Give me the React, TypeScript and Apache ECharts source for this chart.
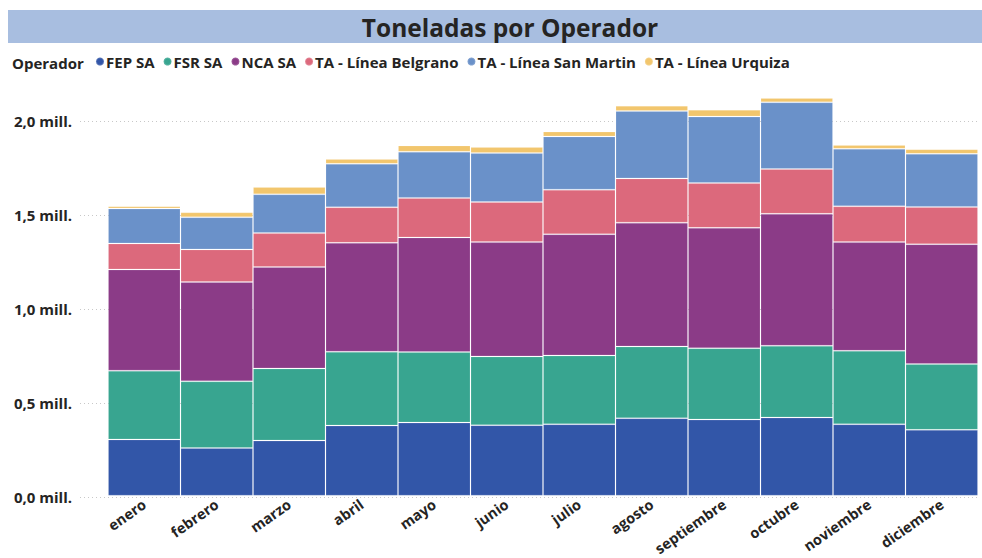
import React, { useEffect, useRef } from "react";
import * as echarts from "echarts";

const categories = [
  "enero", "febrero", "marzo", "abril", "mayo", "junio",
  "julio", "agosto", "septiembre", "octubre", "noviembre", "diciembre",
];
const fepSA = [300000, 254000, 294000, 374000, 390000, 376000, 381000, 413000, 406000, 417000, 381000, 351000];
const fsrSA = [367000, 356000, 385000, 394000, 376000, 367000, 367000, 383000, 381000, 383000, 392000, 351000];
const ncaSA = [540000, 530000, 541000, 581000, 612000, 610000, 647000, 661000, 642000, 704000, 580000, 640000];
const taBelgrano = [139000, 174000, 181000, 190000, 211000, 214000, 238000, 236000, 239000, 239000, 191000, 199000];
const taSanMartin = [186000, 172000, 207000, 232000, 246000, 261000, 284000, 360000, 355000, 356000, 307000, 283000];
const taUrquiza = [12000, 26000, 39000, 25000, 34000, 32000, 26000, 28000, 36000, 23000, 20000, 25000];

const seriesNames = ["FEP SA", "FSR SA", "NCA SA", "TA - Línea Belgrano", "TA - Línea San Martin", "TA - Línea Urquiza"];
const seriesData = [fepSA, fsrSA, ncaSA, taBelgrano, taSanMartin, taUrquiza];
const colors = ["#3256a8", "#38a590", "#8b3b87", "#dc697c", "#6a91c9", "#f2c66d"];
const yTicks = [0, 500000, 1000000, 1500000, 2000000];

const FONT = "'Open Sans', 'Noto Sans', sans-serif";

export default function App() {
  const ref = useRef<HTMLDivElement>(null);
  useEffect(() => {
    if (!ref.current) return;
    const chart = echarts.init(ref.current, null, { renderer: "svg" });
    const fmt = (v: number) => (v / 1e6).toFixed(1).replace(".", ",") + " mill.";
    const option: any = {
      animation: false,
      color: colors,
      graphic: [
        {
          type: "rect",
          shape: { x: 8, y: 10, width: 974, height: 33 },
          style: { fill: "#a8bee0" },
          silent: true,
        },
        {
          type: "text",
          x: 510,
          y: 27,
          style: {
            text: "Toneladas por Operador",
            fill: "#252423",
            font: `bold 24.5px ${FONT}`,
            textAlign: "center",
            textVerticalAlign: "middle",
          },
        },
        {
          type: "text",
          x: 12,
          y: 63,
          style: {
            text: "Operador",
            fill: "#252423",
            font: `bold 15px ${FONT}`,
            textAlign: "left",
            textVerticalAlign: "middle",
          },
        },
      ],
      legend: {
        left: 90,
        top: 49,
        icon: "circle",
        itemWidth: 8,
        itemHeight: 8,
        itemGap: 8,
        textStyle: { fontFamily: FONT, fontWeight: "bold", fontSize: 15, color: "#252423", padding: [0, 0, 0, -3] },
        data: seriesNames,
      },
      grid: [
        { left: 108, right: 4, top: 83.4, bottom: 61, containLabel: false },
        { left: 80, right: 4, top: 83.4, bottom: 61, containLabel: false },
      ],
      xAxis: [
        {
          type: "category",
          data: categories,
          gridIndex: 0,
          axisLine: { show: false },
          axisTick: { show: false },
          axisLabel: {
            interval: 0,
            rotate: 35,
            margin: 7,
            fontFamily: FONT,
            fontWeight: "bold",
            fontSize: 14.5,
            color: "#252423",
          },
        },
        { type: "category", data: [""], gridIndex: 1, show: false },
      ],
      yAxis: [
        {
          type: "value",
          gridIndex: 0,
          min: 0,
          max: 2200000,
          interval: 500000,
          show: false,
          splitLine: { show: false },
        },
        {
          type: "value",
          gridIndex: 1,
          min: 0,
          max: 2200000,
          interval: 500000,
          axisLine: { show: false },
          axisTick: { show: false },
          axisLabel: {
            showMaxLabel: false,
            margin: 8,
            fontFamily: FONT,
            fontWeight: "bold",
            fontSize: 15,
            color: "#252423",
            formatter: (v: number) => (yTicks.indexOf(v) >= 0 ? fmt(v) : ""),
          },
          splitLine: {
            show: true,
            lineStyle: {
              type: [1, 3],
              width: 1,
              color: ["#c8c8c8", "#c8c8c8", "#c8c8c8", "#c8c8c8", "#c8c8c8", "rgba(0,0,0,0)"],
            },
          },
        },
      ],
      series: seriesNames.map((name, i) => ({
        name,
        type: "bar",
        stack: "total",
        xAxisIndex: 0,
        yAxisIndex: 0,
        barCategoryGap: "0%",
        data: seriesData[i],
        itemStyle: {
          color: colors[i],
          borderColor: "rgba(255,255,255,0.15)",
          borderWidth: 1,
        },
        emphasis: { disabled: true },
      })),
    };
    chart.setOption(option);
    return () => chart.dispose();
  }, []);
  return (
    <div
      ref={ref}
      style={{ position: "fixed", left: 0, top: 0, width: 982, height: 558, background: "#fff" }}
    />
  );
}
